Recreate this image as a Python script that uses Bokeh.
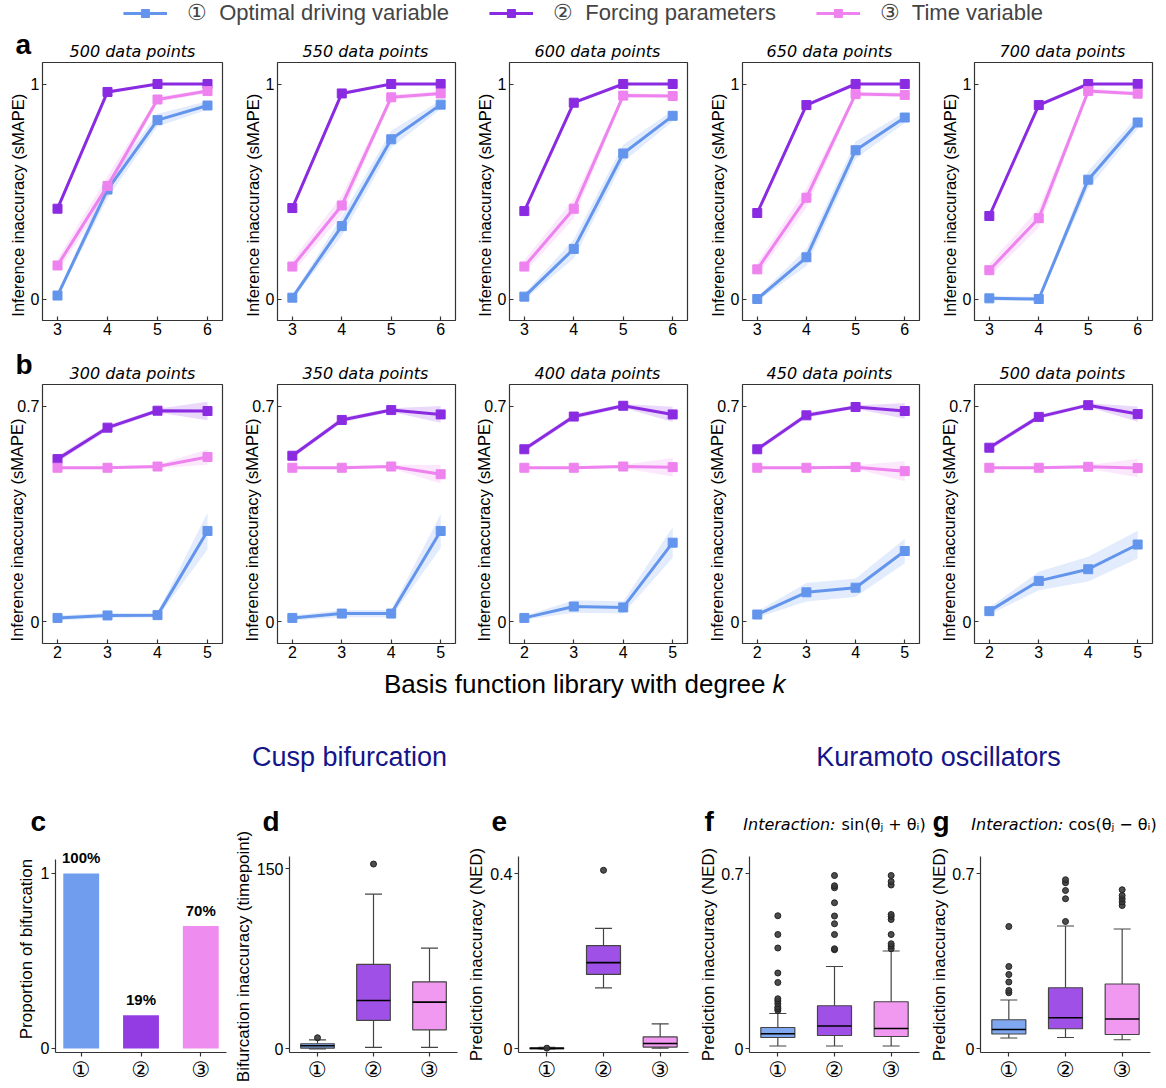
from bokeh.plotting import figure
from bokeh.layouts import row, column
from bokeh.models import (Label, LabelSet, ColumnDataSource, FixedTicker, Range1d,
                          Legend, LegendItem)
from bokeh.core.properties import value
from bokeh.embed import file_html
from bokeh.resources import INLINE

# ---------------- data ----------------
SERIES = ["Optimal driving variable", "Forcing parameters", "Time variable"]
CIRCLED = ["①", "②", "③"]
COLORS = ["#6495ED", "#8A2BE2", "#EE82EE"]

# panel a : degree k = 3..6, five sample sizes
K_A = [3, 4, 5, 6]
N_A = [500, 550, 600, 650, 700]
A_OPT = [[0.016, 0.509, 0.832, 0.900],
         [0.006, 0.339, 0.743, 0.904],
         [0.011, 0.233, 0.677, 0.852],
         [0.000, 0.194, 0.692, 0.844],
         [0.003, 0.000, 0.555, 0.821]]
A_OPT_ERR = [[0.010, 0.040, 0.030, 0.020],
             [0.010, 0.045, 0.040, 0.020],
             [0.015, 0.045, 0.040, 0.025],
             [0.010, 0.040, 0.040, 0.025],
             [0.010, 0.010, 0.040, 0.030]]
A_FORCE = [[0.420, 0.963, 1.000, 1.000],
           [0.423, 0.956, 1.000, 1.000],
           [0.409, 0.913, 1.000, 1.000],
           [0.400, 0.902, 1.000, 1.000],
           [0.386, 0.902, 1.000, 1.000]]
A_FORCE_ERR = [[0.005, 0.010, 0.000, 0.000],
               [0.005, 0.010, 0.000, 0.000],
               [0.005, 0.010, 0.000, 0.000],
               [0.005, 0.010, 0.000, 0.000],
               [0.005, 0.010, 0.000, 0.000]]
A_TIME = [[0.156, 0.526, 0.928, 0.967],
          [0.151, 0.435, 0.938, 0.956],
          [0.151, 0.420, 0.946, 0.944],
          [0.138, 0.471, 0.953, 0.949],
          [0.134, 0.376, 0.967, 0.955]]
A_TIME_ERR = [[0.030, 0.045, 0.012, 0.010],
              [0.030, 0.045, 0.012, 0.010],
              [0.030, 0.045, 0.010, 0.010],
              [0.030, 0.045, 0.010, 0.010],
              [0.030, 0.045, 0.010, 0.010]]

# panel b : degree k = 2..5
K_B = [2, 3, 4, 5]
N_B = [300, 350, 400, 450, 500]
B_OPT = [[0.013, 0.021, 0.022, 0.295],
         [0.013, 0.027, 0.027, 0.295],
         [0.013, 0.050, 0.047, 0.257],
         [0.024, 0.096, 0.111, 0.230],
         [0.035, 0.133, 0.171, 0.251]]
B_OPT_ERR = [[0.008, 0.008, 0.008, 0.060],
             [0.008, 0.012, 0.012, 0.055],
             [0.006, 0.020, 0.020, 0.050],
             [0.010, 0.030, 0.030, 0.040],
             [0.012, 0.030, 0.040, 0.045]]
B_FORCE = [[0.528, 0.630, 0.685, 0.684],
           [0.539, 0.655, 0.687, 0.673],
           [0.560, 0.666, 0.701, 0.673],
           [0.560, 0.670, 0.697, 0.684],
           [0.565, 0.665, 0.703, 0.674]]
B_FORCE_ERR = [[0.010, 0.008, 0.006, 0.030],
               [0.008, 0.008, 0.006, 0.027],
               [0.008, 0.008, 0.006, 0.025],
               [0.008, 0.008, 0.006, 0.025],
               [0.008, 0.008, 0.006, 0.025]]
B_TIME = [[0.500, 0.500, 0.504, 0.535],
          [0.500, 0.500, 0.504, 0.479],
          [0.500, 0.500, 0.504, 0.502],
          [0.500, 0.500, 0.502, 0.489],
          [0.500, 0.500, 0.503, 0.499]]
B_TIME_ERR = [[0.005, 0.005, 0.006, 0.025],
              [0.005, 0.005, 0.006, 0.030],
              [0.005, 0.005, 0.006, 0.030],
              [0.005, 0.005, 0.006, 0.033],
              [0.005, 0.005, 0.006, 0.030]]

# panel c : proportion of bifurcation
C_VALUES = [1.00, 0.19, 0.70]

# box statistics: whisker low, q1, median, q3, whisker high, outliers
D_LO = [0.0, 1.1, 1.1]
D_Q1 = [0.5, 23.6, 15.8]
D_MED = [2.5, 40.3, 38.9]
D_Q3 = [4.2, 70.3, 55.8]
D_HI = [7.5, 129.0, 83.9]
D_FLIERS = [[9.2], [154.0], []]

E_LO = [0.0, 0.139, 0.0015]
E_Q1 = [0.0005, 0.170, 0.004]
E_MED = [0.001, 0.197, 0.012]
E_Q3 = [0.002, 0.236, 0.027]
E_HI = [0.003, 0.275, 0.057]
E_FLIERS = [[0.0015], [0.408], []]

F_LO = [0.011, 0.011, 0.011]
F_Q1 = [0.045, 0.053, 0.049]
F_MED = [0.060, 0.091, 0.081]
F_Q3 = [0.085, 0.172, 0.188]
F_HI = [0.141, 0.329, 0.391]
F_FLIERS = [[0.153, 0.160, 0.167, 0.180, 0.191, 0.200, 0.265, 0.303, 0.403, 0.457, 0.532],
            [0.396, 0.400, 0.457, 0.500, 0.531, 0.584, 0.644, 0.652, 0.693],
            [0.400, 0.411, 0.420, 0.457, 0.517, 0.529, 0.537, 0.655, 0.669, 0.693]]

G_LO = [0.043, 0.045, 0.036]
G_Q1 = [0.059, 0.080, 0.057]
G_MED = [0.077, 0.124, 0.119]
G_Q3 = [0.116, 0.244, 0.259]
G_HI = [0.195, 0.491, 0.479]
G_FLIERS = [[0.224, 0.233, 0.267, 0.297, 0.329, 0.489],
            [0.509, 0.600, 0.633, 0.664, 0.676],
            [0.573, 0.587, 0.600, 0.613, 0.636]]

# ---------------- style / layout ----------------
SANS = "Liberation Sans"
ITAL = "DejaVu Sans"
CIRC_FONT = "DejaVu Sans"
EDGE = "#444444"
FRAME = "#333333"
TITLE_BLUE = "#15158a"
PAGE_W = 1166
PAGE_H = 1088
NBSP = "\u00a0"

ROW_X0 = [0, 240, 472, 705, 937, PAGE_W]
ROW_FL = [42, 275, 507, 739, 972]
ROW_FW = 180
C_X0 = [0, 232, 464, 696, 927, PAGE_W]
C_FL = [55, 286, 517, 748, 979]
C_FW = 171


def no_align(p):
    try:
        p.frame_align = False
    except Exception:
        pass


def strip(width, height):
    p = figure(width=width, height=height, x_range=Range1d(0, 1), y_range=Range1d(0, 1),
               x_axis_type=None, y_axis_type=None, output_backend="svg",
               toolbar_location=None, title=None, min_border=0)
    p.outline_line_color = None
    p.xgrid.visible = False
    p.ygrid.visible = False
    no_align(p)
    return p


def add_text(p, x, y, text, size, font=SANS, style="normal", align="center",
             baseline="middle", angle=0, color="black"):
    p.add_layout(Label(x=x, y=y, x_units="screen", y_units="screen", text=text,
                       text_font=font, text_font_size=size, text_font_style=style,
                       text_align=align, text_baseline=baseline, angle=angle,
                       angle_units="deg", text_color=color))


def base_fig(width, height, lb, rb, tb, bb, xr, yr):
    p = figure(width=width, height=height, x_range=Range1d(*xr), y_range=Range1d(*yr),
               output_backend="svg", toolbar_location=None, title=None,
               min_border_left=lb, min_border_right=rb, min_border_top=tb, min_border_bottom=bb)
    p.xgrid.visible = False
    p.ygrid.visible = False
    no_align(p)
    return p


def style_axes(p, inward):
    for ax in (p.xaxis[0], p.yaxis[0]):
        ax.major_label_text_font = SANS
        ax.major_label_text_font_size = "16px"
        ax.major_label_text_color = "black"
        ax.minor_tick_line_color = None
        ax.major_tick_line_color = FRAME
        ax.major_tick_line_width = 1.2
        ax.axis_label_text_font = SANS
        ax.axis_label_text_font_size = "17px"
        ax.axis_label_text_font_style = "normal"
        ax.axis_label_text_color = "black"
        if inward:
            ax.major_tick_in = 4
            ax.major_tick_out = 0
            ax.axis_line_color = None
        else:
            ax.major_tick_in = 0
            ax.major_tick_out = 4
            ax.axis_line_color = FRAME
            ax.axis_line_width = 1.2
    p.yaxis[0].major_label_standoff = 3 if inward else 2
    p.xaxis[0].major_label_standoff = 2 if inward else 1


def line_panel(i, ks, xr, yr, yticks, ylab_over, series, errs, fh, bb, lab_standoff, lab_pad):
    lb = ROW_FL[i] - ROW_X0[i]
    rb = ROW_X0[i + 1] - (ROW_FL[i] + ROW_FW)
    p = base_fig(ROW_X0[i + 1] - ROW_X0[i], 1 + fh + bb, lb, rb, 1, bb, xr, yr)
    p.outline_line_color = FRAME
    p.outline_line_width = 1.2
    style_axes(p, True)
    p.xaxis[0].ticker = FixedTicker(ticks=ks)
    p.yaxis[0].ticker = FixedTicker(ticks=yticks)
    p.yaxis[0].major_label_overrides = ylab_over
    # a few trailing no-break spaces move the visible label slightly lower, as in the reference
    p.yaxis[0].axis_label = "Inference inaccuracy (sMAPE)" + NBSP * lab_pad
    p.yaxis[0].axis_label_text_font_size = "16.5px"
    p.yaxis[0].axis_label_standoff = lab_standoff
    for vals, err, col in zip(series, errs, COLORS):
        lo = [v - e for v, e in zip(vals, err)]
        hi = [v + e for v, e in zip(vals, err)]
        p.varea(x=ks, y1=lo, y2=hi, fill_color=col, fill_alpha=0.18)
    for vals, col in zip(series, COLORS):
        p.line(ks, vals, line_color=col, line_width=3)
        p.scatter(ks, vals, marker="square", size=9, fill_color=col, line_color=col)
    return p


# ---------------- top strip: legend, "a", titles ----------------
TOP_H = 61
top = strip(PAGE_W, TOP_H)
items = []
for name, circ, col, vals in zip(SERIES, CIRCLED, COLORS, [A_OPT[0], A_FORCE[0], A_TIME[0]]):
    # series of the first panel; they fall outside this strip's ranges and only feed the legend
    lr = top.line(K_A, vals, line_color=col, line_width=3)
    sr = top.scatter(K_A, vals, marker="square", size=9, fill_color=col, line_color=col)
    items.append(LegendItem(label=f"{circ}  {name}", renderers=[lr, sr]))
legend = Legend(items=items, orientation="horizontal", location="top_center",
                border_line_color=None, background_fill_alpha=0, padding=0, margin=0,
                spacing=40, label_standoff=20, glyph_width=44, glyph_height=20,
                label_text_font=SANS, label_text_font_size="22px", label_height=20)
top.add_layout(legend)
add_text(top, 15, TOP_H - 44, "a", "28px", style="bold", align="left")
for i in range(5):
    add_text(top, ROW_FL[i] + ROW_FW / 2, TOP_H - 51, f"{N_A[i]} data points", "16px",
             font=ITAL, style="italic")

# ---------------- row a ----------------
row_a = [line_panel(i, K_A, (2.7, 6.3), (-0.1, 1.1), [0, 1], {0: "0", 1: "1"},
                    [A_OPT[i], A_FORCE[i], A_TIME[i]],
                    [A_OPT_ERR[i], A_FORCE_ERR[i], A_TIME_ERR[i]], 258, 24, 1, 6)
         for i in range(5)]

# ---------------- strip b ----------------
SB_TOP = 344
SB_H = 39
sb = strip(PAGE_W, SB_H)
add_text(sb, 15, SB_TOP + SB_H - 364, "b", "28px", style="bold", align="left")
for i in range(5):
    add_text(sb, ROW_FL[i] + ROW_FW / 2, SB_TOP + SB_H - 373, f"{N_B[i]} data points", "16px",
             font=ITAL, style="italic")

# ---------------- row b ----------------
row_b = [line_panel(i, K_B, (1.7, 5.3), (-0.07, 0.77), [0, 0.7], {0: "0", 0.7: "0.7"},
                    [B_OPT[i], B_FORCE[i], B_TIME[i]],
                    [B_OPT_ERR[i], B_FORCE_ERR[i], B_TIME_ERR[i]], 259, 24, -12, 7)
         for i in range(5)]

# ---------------- middle strip ----------------
MID_TOP = 667
MID_H = 133
mid = strip(PAGE_W, MID_H)
add_text(mid, 765, MID_TOP + MID_H - 683, "Basis function library with degree", "26px",
         align="right")
add_text(mid, 772, MID_TOP + MID_H - 683, "k", "26px", style="italic", align="left")
add_text(mid, 349, MID_TOP + MID_H - 756, "Cusp bifurcation", "27px", color=TITLE_BLUE)
add_text(mid, 938, MID_TOP + MID_H - 756, "Kuramoto oscillators", "27px", color=TITLE_BLUE)

# ---------------- row c ----------------
ROWC_TOP = MID_TOP + MID_H          # 800
HEAD_BOTTOM = 845
FRAME_TOP_C = 856
FRAME_BOTTOM_C = 1052
BB_C = PAGE_H - FRAME_BOTTOM_C
LETTER_MID = 821


def circ_xaxis(p, ticks):
    p.xaxis[0].ticker = FixedTicker(ticks=ticks)
    p.xaxis[0].major_label_overrides = {t: c for t, c in zip(ticks, CIRCLED)}
    p.xaxis[0].major_label_text_font = CIRC_FONT
    p.xaxis[0].major_label_text_font_size = "21px"


def head_strip(x0, x1, letter, letter_x, frame_left=None, title_fn=None, title_dx=None):
    s = strip(x1 - x0, HEAD_BOTTOM - ROWC_TOP)
    add_text(s, letter_x - x0, HEAD_BOTTOM - LETTER_MID, letter, "28px", style="bold",
             align="left")
    if title_fn:
        add_text(s, frame_left + title_dx[0] - x0, HEAD_BOTTOM - 824, "Interaction:", "16px",
                 font=ITAL, style="italic", align="right")
        add_text(s, frame_left + title_dx[1] - x0, HEAD_BOTTOM - 824, title_fn, "16px",
                 font=ITAL, align="left")
    return s


# c: bars (its frame reaches higher so that the percentage labels are not cut)
BAR_X = [0, 1, 2]
fh_c = FRAME_BOTTOM_C - HEAD_BOTTOM
pc = base_fig(C_X0[1] - C_X0[0], fh_c + BB_C, C_FL[0] - C_X0[0],
              C_X0[1] - (C_FL[0] + C_FW), 0, BB_C, (-0.43, 2.43), (-0.023, 1.16))
pc.outline_line_color = None
style_axes(pc, False)
circ_xaxis(pc, BAR_X)
pc.yaxis[0].ticker = FixedTicker(ticks=[0, 1])
pc.yaxis[0].bounds = (-0.023, 1.08)
pc.yaxis[0].axis_label = "Proportion of bifurcation"
pc.yaxis[0].axis_label_standoff = 2
csrc = ColumnDataSource(dict(x=BAR_X, top=C_VALUES, color=COLORS,
                             txt=[f"{round(v * 100)}%" for v in C_VALUES]))
pc.vbar(x="x", top="top", bottom=0, width=0.6, fill_color="color", fill_alpha=0.92,
        line_color=None, source=csrc)
pc.add_layout(LabelSet(x="x", y="top", text="txt", source=csrc, y_offset=7,
                       text_align="center", text_baseline="bottom", text_font=value(SANS),
                       text_font_size=value("15px"), text_font_style=value("bold"),
                       text_color=value("black")))
col_c = column(head_strip(C_X0[0], C_X0[1], "c", 30), pc)

BOX_X = [1, 2, 3]
BOX_W = 0.6


def box_panel(x0, x1, fl, lo, q1, med, q3, hi, fliers, yr, yticks, yover, ylabel, standoff):
    tb = FRAME_TOP_C - HEAD_BOTTOM
    fh = FRAME_BOTTOM_C - FRAME_TOP_C
    p = base_fig(x1 - x0, tb + fh + BB_C, fl - x0, x1 - (fl + C_FW), tb, BB_C, (0.5, 3.5), yr)
    p.outline_line_color = None
    style_axes(p, False)
    circ_xaxis(p, BOX_X)
    p.yaxis[0].ticker = FixedTicker(ticks=yticks)
    p.yaxis[0].major_label_overrides = yover
    if ylabel:
        p.yaxis[0].axis_label = ylabel
        p.yaxis[0].axis_label_standoff = standoff
    src = ColumnDataSource(dict(x=BOX_X, lo=lo, q1=q1, med=med, q3=q3, hi=hi, color=COLORS,
                                x0=[x - BOX_W / 2 for x in BOX_X],
                                x1=[x + BOX_W / 2 for x in BOX_X]))
    p.segment(x0="x", y0="lo", x1="x", y1="q1", source=src, line_color=EDGE, line_width=1.2)
    p.segment(x0="x", y0="q3", x1="x", y1="hi", source=src, line_color=EDGE, line_width=1.2)
    p.scatter(x="x", y="lo", marker="dash", size=17, line_color=EDGE, line_width=1.2, source=src)
    p.scatter(x="x", y="hi", marker="dash", size=17, line_color=EDGE, line_width=1.2, source=src)
    p.vbar(x="x", width=BOX_W, bottom="q1", top="q3", fill_color="color", fill_alpha=0.82,
           line_color=EDGE, line_width=1.2, source=src)
    p.segment(x0="x0", y0="med", x1="x1", y1="med", source=src, line_color="black",
              line_width=1.6)
    fx, fy = [], []
    for x, fl_ in zip(BOX_X, fliers):
        fx += [x] * len(fl_)
        fy += fl_
    p.scatter(fx, fy, marker="circle", size=6, fill_color="#3a3a3a", fill_alpha=0.9,
              line_color="#222222")
    return p


# d: its long axis label lives in a narrow full-height figure of its own
D_LAB_X1 = 253
lab_d = strip(D_LAB_X1 - C_X0[1], PAGE_H - ROWC_TOP)
add_text(lab_d, 243 - C_X0[1], PAGE_H - 956, "Bifurcation inaccuracy (timepoint)", "17px",
         angle=90)
pd_ = box_panel(D_LAB_X1, C_X0[2], C_FL[1], D_LO, D_Q1, D_MED, D_Q3, D_HI, D_FLIERS,
                (-3.1, 160.3), [0, 150], {0: "0", 150: "150"}, None, 0)
col_d = row(lab_d, column(head_strip(D_LAB_X1, C_X0[2], "d", 262), pd_))

pe = box_panel(C_X0[2], C_X0[3], C_FL[2], E_LO, E_Q1, E_MED, E_Q3, E_HI, E_FLIERS,
               (-0.0085, 0.4395), [0, 0.4], {0: "0", 0.4: "0.4"},
               "Prediction inaccuracy (NED)", 1)
col_e = column(head_strip(C_X0[2], C_X0[3], "e", 491), pe)

pf = box_panel(C_X0[3], C_X0[4], C_FL[3], F_LO, F_Q1, F_MED, F_Q3, F_HI, F_FLIERS,
               (-0.015, 0.769), [0, 0.7], {0: "0", 0.7: "0.7"},
               "Prediction inaccuracy (NED)", 0)
col_f = column(head_strip(C_X0[3], C_X0[4], "f", 704, C_FL[3], "sin(θⱼ + θᵢ)", (87, 93)), pf)

pg = box_panel(C_X0[4], C_X0[5], C_FL[4], G_LO, G_Q1, G_MED, G_Q3, G_HI, G_FLIERS,
               (-0.015, 0.769), [0, 0.7], {0: "0", 0.7: "0.7"},
               "Prediction inaccuracy (NED)", 0)
col_g = column(head_strip(C_X0[4], C_X0[5], "g", 932, C_FL[4], "cos(θⱼ − θᵢ)", (84, 89)), pg)

layout = column(top, row(*row_a), sb, row(*row_b), mid, row(col_c, col_d, col_e, col_f, col_g))

open("out.html", "w").write(file_html(layout, INLINE))
